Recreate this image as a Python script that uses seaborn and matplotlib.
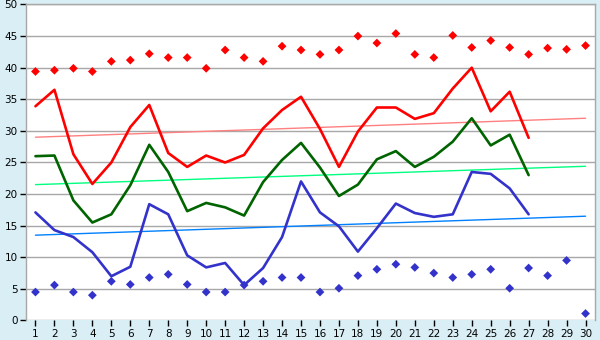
import numpy as np
import pandas as pd
import matplotlib
matplotlib.use("Agg")
import matplotlib.pyplot as plt
import seaborn as sns

# Day numbers on the x axis
days = list(range(1, 31))
line_days = list(range(1, 28))

# Daily extremes (diamonds)
max_points = [39.4, 39.6, 39.9, 39.4, 41.0, 41.2, 42.2, 41.6, 41.6, 39.9,
              42.8, 41.6, 41.0, 43.4, 42.8, 42.1, 42.8, 45.0, 43.9, 45.4,
              42.1, 41.6, 45.1, 43.2, 44.3, 43.2, 42.1, 43.1, 42.9, 43.5]
min_points = [4.5, 5.6, 4.5, 4.0, 6.2, 5.7, 6.8, 7.3, 5.7, 4.5,
              4.5, 5.6, 6.2, 6.8, 6.8, 4.5, 5.1, 7.1, 8.1, 8.9,
              8.4, 7.5, 6.8, 7.3, 8.1, 5.1, 8.3, 7.1, 9.5, 1.1]

# Daily series (lines)
upper_series = [33.9, 36.5, 26.3, 21.6, 25.0, 30.6, 34.1, 26.5, 24.3, 26.1,
                25.0, 26.2, 30.4, 33.3, 35.4, 30.3, 24.3, 29.9, 33.7, 33.7,
                31.9, 32.8, 36.7, 40.0, 33.1, 36.2, 28.9]
middle_series = [26.0, 26.1, 19.0, 15.5, 16.8, 21.4, 27.8, 23.5, 17.3, 18.6,
                 17.9, 16.6, 21.9, 25.4, 28.1, 24.2, 19.7, 21.5, 25.5, 26.8,
                 24.3, 25.9, 28.3, 32.0, 27.7, 29.4, 23.0]
lower_series = [17.1, 14.3, 13.2, 10.8, 7.0, 8.5, 18.4, 16.8, 10.3, 8.4,
                9.1, 5.6, 8.3, 13.2, 22.0, 17.1, 14.9, 10.9, 14.6, 18.5,
                17.0, 16.4, 16.8, 23.5, 23.2, 20.9, 16.8]

# Trend line end values at day 1 and day 30
upper_trend = [29.0, 32.0]
middle_trend = [21.5, 24.4]
lower_trend = [13.5, 16.5]

y_ticks = list(range(0, 51, 5))

bg = "#d9eef5"
sns.set_style("white")
plt.rcParams["font.family"] = ["DejaVu Sans"]

fig = plt.figure(figsize=(6.0, 3.4), dpi=100, facecolor=bg)
ax = fig.add_axes([0.0433, 0.0574, 0.9484, 0.9294])
ax.set_facecolor("white")

for y in y_ticks:
    ax.axhline(y, color="#a8a8a8", lw=1.0, zorder=0)

trend_df = pd.DataFrame({
    "day": [days[0], days[-1]] * 3,
    "value": upper_trend + middle_trend + lower_trend,
    "series": ["u"] * 2 + ["m"] * 2 + ["l"] * 2,
})
sns.lineplot(data=trend_df, x="day", y="value", hue="series",
             palette={"u": "#ff8080", "m": "#00ff80", "l": "#0080ff"},
             lw=1.0, legend=False, ax=ax, zorder=2)

line_df = pd.DataFrame({
    "day": line_days * 3,
    "value": upper_series + middle_series + lower_series,
    "series": ["u"] * 27 + ["m"] * 27 + ["l"] * 27,
})
sns.lineplot(data=line_df, x="day", y="value", hue="series",
             palette={"u": "#ff0000", "m": "#006400", "l": "#3333cc"},
             lw=1.9, legend=False, ax=ax, zorder=3)

sns.scatterplot(x=days, y=max_points, marker="D", s=20, color="#ff0000",
                edgecolor="none", ax=ax, zorder=4)
sns.scatterplot(x=days, y=min_points, marker="D", s=20, color="#3333cc",
                edgecolor="none", ax=ax, zorder=4)

ax.set_xlim(0.5, 30.5)
ax.set_ylim(0, 50)
ax.set_xticks(days)
ax.set_xticklabels([str(d) for d in days])
ax.set_yticks(y_ticks)
ax.set_xlabel("")
ax.set_ylabel("")
ax.tick_params(axis="both", labelsize=7.5, colors="black", length=4, width=1,
               direction="out", pad=2)
ax.tick_params(axis="x", bottom=True, top=False)
ax.tick_params(axis="y", left=True, right=False)
for side in ["left", "right", "top"]:
    ax.spines[side].set_color("#a8a8a8")
    ax.spines[side].set_linewidth(1.0)
ax.spines["bottom"].set_visible(False)

fig.savefig("out.png", dpi=100, facecolor=bg)
